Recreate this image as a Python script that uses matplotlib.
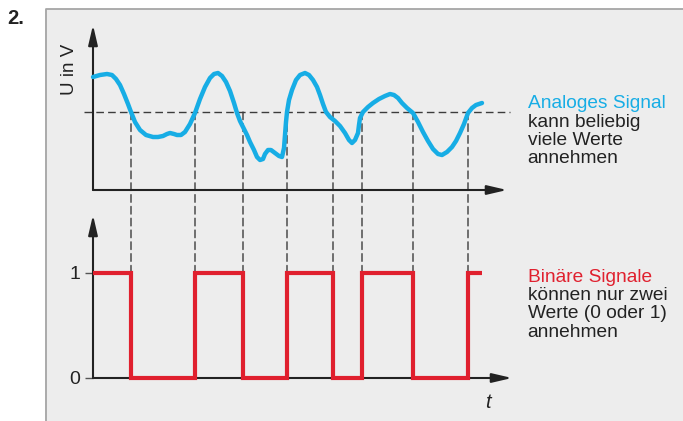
import matplotlib
matplotlib.use("Agg")
import matplotlib.pyplot as plt
from matplotlib.patches import Rectangle, ConnectionPatch
from matplotlib.lines import Line2D

plt.rcParams['font.family'] = ['Liberation Sans', 'DejaVu Sans']

# Analoges Signal: Zeit t und Spannung U
t_analog = [0, 0.7, 1.4, 1.9, 2.3, 2.7, 3.1, 3.5, 3.8, 4.2,
            4.7, 5.3, 6.0, 6.5, 7.0, 7.4, 7.7, 8.1, 8.4, 8.8,
            9.2, 9.7, 10.2, 10.7, 11.2, 11.7, 12.1, 12.5, 12.9, 13.3,
            13.7, 14.1, 14.4, 14.7, 15.0, 15.4, 15.7, 16.1, 16.4, 16.7,
            17.0, 17.2, 17.5, 17.8, 18.2, 18.6, 18.9, 19.1, 19.2, 19.3,
            19.4, 19.6, 19.9, 20.3, 20.7, 21.2, 21.6, 22.0, 22.4, 22.7,
            23.0, 23.3, 23.7, 24.2, 24.7, 25.2, 25.6, 25.9, 26.2, 26.5,
            26.6, 26.7, 27.0, 27.5, 28.0, 28.6, 29.2, 29.7, 30.1, 30.5,
            30.9, 31.4, 32.0, 32.5, 33.0, 33.5, 34.0, 34.5, 34.9, 35.4,
            35.9, 36.3, 36.7, 37.1, 37.5, 37.9, 38.3, 38.9]
u_analog = [11.3, 11.5, 11.6, 11.5, 11.1, 10.5, 9.6, 8.6, 7.8, 6.8,
            6.0, 5.5, 5.3, 5.3, 5.4, 5.6, 5.7, 5.6, 5.5, 5.5,
            5.8, 6.6, 7.7, 9.1, 10.3, 11.2, 11.6, 11.7, 11.4, 10.8,
            9.9, 8.7, 7.7, 6.9, 6.3, 5.5, 4.8, 4.0, 3.3, 3.0,
            3.1, 3.6, 4.0, 4.0, 3.7, 3.4, 3.3, 4.2, 5.5, 6.8,
            7.8, 9.0, 10.0, 11.0, 11.5, 11.7, 11.5, 11.0, 10.3, 9.5,
            8.6, 7.8, 7.3, 6.9, 6.4, 5.7, 5.0, 4.7, 5.0, 5.7,
            6.5, 7.2, 7.8, 8.3, 8.7, 9.1, 9.4, 9.6, 9.5, 9.2,
            8.7, 8.2, 7.7, 6.8, 5.8, 4.9, 4.1, 3.6, 3.5, 3.8,
            4.3, 4.9, 5.7, 6.6, 7.7, 8.2, 8.5, 8.7]
u_schwelle = 7.8

# Binäres Signal: Umschaltzeitpunkte und Werte
t_start, t_ende = 0.0, 38.9
t_wechsel = [3.8, 10.2, 15.0, 19.4, 24.0, 26.9, 32.0, 37.5]
bin_werte = [1, 0, 1, 0, 1, 0, 1, 0, 1]

text_analog = ["Analoges Signal", "kann beliebig", "viele Werte", "annehmen"]
text_binaer = ["Binäre Signale", "können nur zwei", "Werte (0 oder 1)", "annehmen"]

blau = '#17ade5'
rot = '#e0202e'
dunkel = '#222222'
strich = '#3c3c3c'

W, H = 683, 421
fig = plt.figure(figsize=(W / 100, H / 100), dpi=100)
fig.patch.set_facecolor('white')

# grauer Kasten mit Rand links und oben
fig.add_artist(Rectangle((45 / W, 0), (W - 45) / W, 1 - 8.5 / H, transform=fig.transFigure,
                         facecolor='#ededed', edgecolor='none', zorder=-5))
fig.add_artist(Line2D([45.5 / W, 45.5 / W, 1], [0, 1 - 8.5 / H, 1 - 8.5 / H],
                      transform=fig.transFigure, color='#a6a6a6', lw=1.3, zorder=-4))

ax_top = fig.add_axes([93 / W, (H - 190) / H, 419 / W, 165 / H])
ax_bot = fig.add_axes([93 / W, (H - 378) / H, 419 / W, 163 / H])
for ax in (ax_top, ax_bot):
    ax.set_xlim(0, 41.9)
    ax.set_facecolor('none')
    ax.set_zorder(2)
    for s in ax.spines.values():
        s.set_visible(False)
    ax.set_xticks([])
ax_top.set_ylim(0, 16.5)
ax_top.set_yticks([])
ax_bot.set_ylim(0, 1.552)
ax_bot.set_yticks([0, 1])
ax_bot.set_yticklabels(['0', '1'])
ax_bot.tick_params(axis='y', length=6, width=1, color='#555555', pad=3,
                   labelsize=14, labelcolor=dunkel)


def pfeil(ax, von, bis):
    ax.annotate('', xy=bis, xytext=von, xycoords='data', annotation_clip=False,
                arrowprops=dict(arrowstyle='-|>,head_length=1.2,head_width=0.28',
                                mutation_scale=10, lw=1.5, color=dunkel,
                                shrinkA=0, shrinkB=0))


# Achsen mit Pfeilen
pfeil(ax_top, (0, 0), (0, 16.5))
pfeil(ax_top, (0, 0), (41.4, 0))
pfeil(ax_bot, (0, 0), (0, 1.552))
pfeil(ax_bot, (0, 0), (41.9, 0))

# Schwelle und Hilfslinien
ax_top.plot([-0.9, 41.7], [u_schwelle, u_schwelle], ls=(0, (5.5, 3)), lw=1,
            color=strich, clip_on=False, zorder=1)
for tc in t_wechsel:
    con = ConnectionPatch(xyA=(tc, u_schwelle), coordsA=ax_top.transData,
                          xyB=(tc, 1), coordsB=ax_bot.transData,
                          ls=(0, (5.5, 3)), lw=1, color=strich, zorder=1)
    fig.add_artist(con)

# Signale
ax_top.plot(t_analog, u_analog, color=blau, lw=3.2, solid_capstyle='round',
            solid_joinstyle='round', zorder=3, clip_on=False)
ax_bot.stairs(bin_werte, [t_start] + t_wechsel + [t_ende], baseline=None,
              color=rot, lw=3, zorder=3, clip_on=False)

ax_top.text(-2.3, 12.1, 'U in V', rotation=90, ha='center', va='center',
            fontsize=13.5, color=dunkel)
ax_bot.text(39.5, -0.23, 't', style='italic', ha='center', va='center',
            fontsize=14.5, color=dunkel)

fig.text(7 / W, 1 - 24 / H, '2.', fontsize=14.5, fontweight='bold', color=dunkel,
         va='baseline', ha='left')

for i, zeile in enumerate(text_analog):
    fig.text(527.5 / W, 1 - (108.3 + 18.3 * i) / H, zeile, fontsize=13.8,
             color=blau if i == 0 else dunkel, va='baseline', ha='left')
for i, zeile in enumerate(text_binaer):
    fig.text(527.5 / W, 1 - (281.7 + 18.3 * i) / H, zeile, fontsize=13.8,
             color=rot if i == 0 else dunkel, va='baseline', ha='left')

fig.savefig('out.png', dpi=100)
